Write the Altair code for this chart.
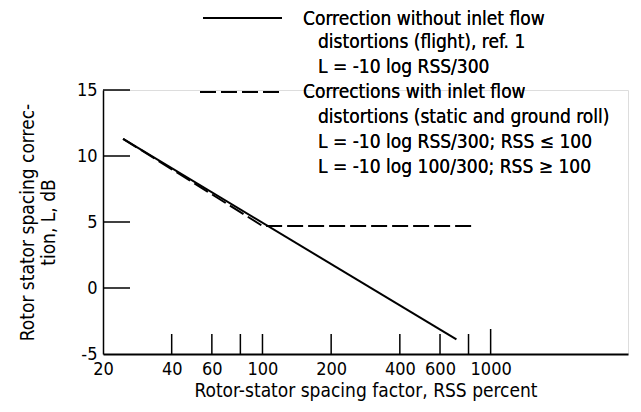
import altair as alt
import pandas as pd

# ---- data ----
rss_flight = [24.5, 708]
L_flight = [11.3, -3.9]
rss_static = [24.5, 100, 830]
L_static = [11.3, 4.7, 4.7]

x_tick_values = [40, 60, 80, 100, 200, 400, 600, 800]
x_major_tick = [1000]
x_label_values = [20, 40, 60, 100, 200, 400, 600, 1000]
y_label_values = [-5, 0, 5, 10, 15]
y_tick_values = [0, 5, 10, 15]

legend_solid_head = "Correction without inlet flow"
legend_solid_body = ["distortions (flight), ref. 1", "L = -10 log RSS/300"]
legend_dash_head = "Corrections with inlet flow"
legend_dash_body = ["distortions (static and ground roll)",
                    "L = -10 log RSS/300;  RSS ≤ 100",
                    "L = -10 log 100/300;  RSS ≥ 100"]

FONT = "Liberation Sans Narrow, DejaVu Sans Condensed, sans-serif"
W, H = 525, 264

xs = alt.Scale(type="log", domain=[20, 4000], nice=False)
ys = alt.Scale(domain=[-5, 15], nice=False, zero=False)

xa = alt.Axis(values=x_label_values, ticks=False, grid=False,
              domainColor="black", domainWidth=2,
              labelExpr="'' + datum.value",
              labelFont=FONT, labelFontSize=18, labelColor="black",
              labelPadding=6, labelFlush=False,
              title="Rotor-stator spacing factor, RSS percent",
              titleFont=FONT, titleFontSize=19, titleFontWeight="normal",
              titleColor="black", titlePadding=3)
ya = alt.Axis(values=y_label_values, ticks=False, grid=False,
              domainColor="black", domainWidth=1.5,
              labelExpr="'' + datum.value",
              labelFont=FONT, labelFontSize=18, labelColor="black",
              labelPadding=6, labelFlush=False,
              title=["Rotor stator spacing correc-", "tion, L, dB"],
              titleFont=FONT, titleFontSize=19, titleFontWeight="normal",
              titleColor="black", titlePadding=18, titleLineHeight=21)

flight = pd.DataFrame({"rss": rss_flight, "L": L_flight})
static = pd.DataFrame({"rss": rss_static, "L": L_static})

line_solid = alt.Chart(flight).mark_line(color="black", strokeWidth=2).encode(
    x=alt.X("rss:Q", scale=xs, axis=xa),
    y=alt.Y("L:Q", scale=ys, axis=ya),
)

line_dash = alt.Chart(static).mark_line(color="black", strokeWidth=2,
                                        strokeDash=[16, 5]).encode(
    x=alt.X("rss:Q", scale=xs, axis=xa),
    y=alt.Y("L:Q", scale=ys, axis=ya),
)

xt = pd.DataFrame({"rss": x_tick_values})
xticks = alt.Chart(xt).mark_rule(color="black", strokeWidth=1.5).encode(
    x=alt.X("rss:Q", scale=xs, axis=xa),
    y=alt.value(H), y2=alt.value(H - 20),
)
xt2 = pd.DataFrame({"rss": x_major_tick})
xticks2 = alt.Chart(xt2).mark_rule(color="black", strokeWidth=1.5).encode(
    x=alt.X("rss:Q", scale=xs, axis=xa),
    y=alt.value(H), y2=alt.value(H - 25),
)
yt = pd.DataFrame({"L": y_tick_values})
yticks = alt.Chart(yt).mark_rule(color="black", strokeWidth=1.5).encode(
    y=alt.Y("L:Q", scale=ys, axis=ya),
    x=alt.value(0), x2=alt.value(27),
)

# ---- legend (drawn as annotations above/right of the plot) ----
leg_solid = alt.Chart(flight).mark_rule(color="black", strokeWidth=2).encode(
    x=alt.value(100), x2=alt.value(179), y=alt.value(-72))
leg_dash = alt.Chart(flight).mark_rule(color="black", strokeWidth=2,
                                       strokeDash=[16, 5]).encode(
    x=alt.value(97), x2=alt.value(177), y=alt.value(2))

def txt(text, x, y):
    return alt.Chart(flight).mark_text(
        text=text, align="left", baseline="middle", font=FONT, fontSize=19,
        color="black", lineHeight=25).encode(x=alt.value(x), y=alt.value(y))

legend = [
    leg_solid, leg_dash,
    txt(legend_solid_head, 200, -71),
    txt(legend_solid_body, 215, -48),
    txt(legend_dash_head, 200, 2),
    txt(legend_dash_body, 215, 27),
]

chart = alt.layer(line_solid, line_dash, xticks, xticks2, yticks, *legend).properties(
    width=W, height=H,
    autosize=alt.AutoSizeParams(type="none"),
    padding={"left": 95, "top": 82, "right": 5, "bottom": 50},
).configure_view(stroke=None).configure(background="white")

chart.save("out.html", embed_options={"renderer": "svg", "actions": False})
